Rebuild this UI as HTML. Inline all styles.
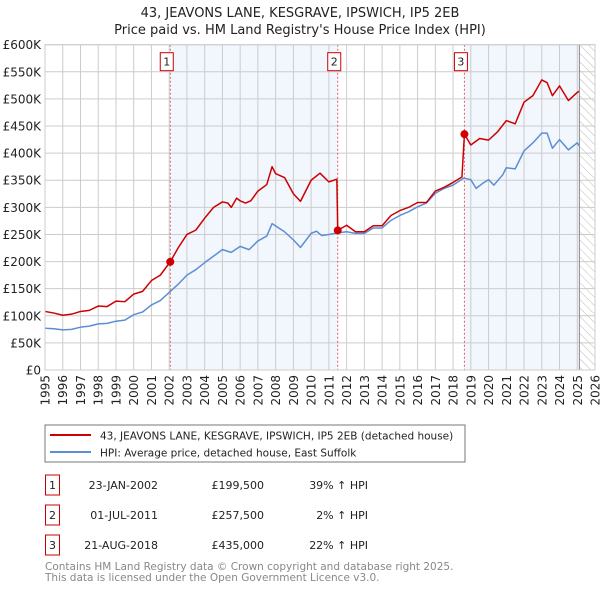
<!DOCTYPE html>
<html><head><meta charset="utf-8"><style>
body{margin:0;background:#fff;font-family:"DejaVu Sans","Liberation Sans",sans-serif;}
#wrap{position:relative;width:600px;height:590px;overflow:hidden;}
svg text{font-family:"DejaVu Sans","Liberation Sans",sans-serif;}
</style></head><body>
<div id="wrap">
<svg id="chart" width="600" height="590">
<defs><pattern id="hatch" width="6" height="6" patternUnits="userSpaceOnUse" patternTransform="rotate(-45)"><line x1="0" y1="0" x2="0" y2="6" stroke="#bbb" stroke-width="1"/></pattern></defs>
<text x="300" y="17" text-anchor="middle" font-size="13" fill="#222">43, JEAVONS LANE, KESGRAVE, IPSWICH, IP5 2EB</text>
<text x="300" y="34" text-anchor="middle" font-size="13" fill="#222">Price paid vs. HM Land Registry's House Price Index (HPI)</text>
<g id="plot"></g>
<rect x="45" y="425" width="420" height="37" fill="#fff" stroke="#777"/>
<line x1="50" y1="435" x2="91" y2="435" stroke="#cc0000" stroke-width="2"/>
<text x="100" y="439.5" font-size="10.5" fill="#222">43, JEAVONS LANE, KESGRAVE, IPSWICH, IP5 2EB (detached house)</text>
<line x1="50" y1="452" x2="91" y2="452" stroke="#5b8fd4" stroke-width="2"/>
<text x="100" y="456.5" font-size="10.5" fill="#222">HPI: Average price, detached house, East Suffolk</text>
<g font-size="11" fill="#222">
<rect x="45.5" y="475" width="14" height="20" fill="#fff" stroke="#cc0000"/><text x="52.5" y="489" text-anchor="middle">1</text>
<text x="158" y="489" text-anchor="end">23-JAN-2002</text><text x="264" y="489" text-anchor="end">£199,500</text><text x="368" y="489" text-anchor="end">39% ↑ HPI</text>
<rect x="45.5" y="505" width="14" height="20" fill="#fff" stroke="#cc0000"/><text x="52.5" y="519" text-anchor="middle">2</text>
<text x="158" y="519" text-anchor="end">01-JUL-2011</text><text x="264" y="519" text-anchor="end">£257,500</text><text x="368" y="519" text-anchor="end">2% ↑ HPI</text>
<rect x="45.5" y="535" width="14" height="20" fill="#fff" stroke="#cc0000"/><text x="52.5" y="549" text-anchor="middle">3</text>
<text x="158" y="549" text-anchor="end">21-AUG-2018</text><text x="264" y="549" text-anchor="end">£435,000</text><text x="368" y="549" text-anchor="end">22% ↑ HPI</text>
</g>
<text x="45" y="570" font-size="10.5" fill="#888">Contains HM Land Registry data © Crown copyright and database right 2025.</text>
<text x="45" y="581" font-size="10.5" fill="#888">This data is licensed under the Open Government Licence v3.0.</text>
</svg>
</div>
<script>
const hpiYears=[1995,1995.5,1996,1996.5,1997,1997.5,1998,1998.5,1999,1999.5,2000,2000.5,2001,2001.5,2002,2002.5,2003,2003.5,2004,2004.5,2005,2005.5,2006,2006.5,2007,2007.5,2007.8,2008.5,2009,2009.4,2010,2010.3,2010.6,2011,2011.5,2012,2012.5,2013,2013.5,2014,2014.5,2015,2015.5,2016,2016.5,2017,2017.5,2018,2018.6,2019,2019.3,2019.7,2020,2020.3,2020.8,2021,2021.5,2022,2022.5,2023,2023.3,2023.6,2024,2024.5,2025,2025.1];
const hpiValues=[77,76,74,75,79,81,85,86,90,92,102,107,120,128,143,158,175,185,198,210,222,217,228,222,238,247,270,255,240,226,252,256,248,250,253,255,252,252,262,262,276,285,292,301,308,326,335,341,354,351,335,345,351,341,360,373,371,404,419,437,437,409,425,406,419,414];
const ppYears=[1995,1995.5,1996,1996.5,1997,1997.5,1998,1998.5,1999,1999.5,2000,2000.5,2001,2001.5,2002.06,2002.5,2003,2003.5,2004,2004.5,2005,2005.3,2005.5,2005.8,2006,2006.3,2006.6,2007,2007.5,2007.8,2008,2008.5,2009,2009.4,2010,2010.5,2011,2011.45,2011.5,2012,2012.5,2013,2013.5,2014,2014.5,2015,2015.5,2016,2016.5,2017,2017.5,2018,2018.5,2018.64,2019,2019.5,2020,2020.5,2021,2021.5,2022,2022.5,2023,2023.3,2023.6,2024,2024.5,2025,2025.1];
const ppValues=[108,105,101,103,108,110,118,117,127,126,140,145,165,175,199.5,225,250,258,280,300,310,308,300,317,312,308,312,330,342,375,362,355,325,311,350,363,347,352,257.5,267,255,255,266,266,285,294,300,309,309,330,337,346,356,435,415,427,424,439,460,454,494,506,535,530,506,524,497,512,514];
const saleYears=[2002.06,2011.5,2018.64];
const saleValues=[199.5,257.5,435];
const saleLabels=["1","2","3"];
const yTicks=[0,50,100,150,200,250,300,350,400,450,500,550,600];
const yTickLabels=["£0","£50K","£100K","£150K","£200K","£250K","£300K","£350K","£400K","£450K","£500K","£550K","£600K"];
const xTicks=[1995,1996,1997,1998,1999,2000,2001,2002,2003,2004,2005,2006,2007,2008,2009,2010,2011,2012,2013,2014,2015,2016,2017,2018,2019,2020,2021,2022,2023,2024,2025,2026];

const L=45,R=595,T=44.7,B=370,X0=1995,X1=2026,Y1=600,dataEnd=2025.12;
const xs=v=>L+(v-X0)/(X1-X0)*(R-L);
const ys=v=>B-v/Y1*(B-T);
const NS='http://www.w3.org/2000/svg';
const g=document.getElementById('plot');
function mk(tag,attrs,parent){const e=document.createElementNS(NS,tag);for(const k in attrs)e.setAttribute(k,attrs[k]);(parent||g).appendChild(e);return e;}
let e;
e=mk('rect',{x:L,y:T,width:R-L,height:B-T,fill:'#fff'});


e=mk('rect',{x:xs(saleYears[0]),y:T,width:xs(saleYears[1])-xs(saleYears[0]),height:B-T,fill:'#f2f6fd'});


e=mk('rect',{x:xs(saleYears[2]),y:T,width:xs(dataEnd)-xs(saleYears[2]),height:B-T,fill:'#f2f6fd'});


e=mk('rect',{x:xs(dataEnd),y:T,width:R-xs(dataEnd),height:B-T,fill:'url(#hatch)'});


yTicks.forEach((v,i)=>{
  e=mk('line',{x1:L,x2:R,y1:ys(v),y2:ys(v),stroke:'#ccc','stroke-width':1});
  
  
  e=mk('text',{x:L-4,y:ys(v)+4.5,'text-anchor':'end','font-size':'12',fill:'#222'});
  e.textContent=yTickLabels[i];
  
  
});
xTicks.forEach(v=>{
  e=mk('line',{x1:xs(v),x2:xs(v),y1:T,y2:B,stroke:'#ccc','stroke-width':1});
  
  
  e=mk('text',{transform:`translate(${xs(v)+4.5},${B+5}) rotate(-90)`,'text-anchor':'end','font-size':'12',fill:'#222'});
  e.textContent=String(v);
  
  
});
e=mk('line',{x1:xs(dataEnd),x2:xs(dataEnd),y1:T,y2:B,stroke:'#888','stroke-width':1});


saleYears.forEach((v,i)=>{
  e=mk('line',{x1:xs(v),x2:xs(v),y1:T,y2:B,stroke:'#e06060','stroke-width':1,'stroke-dasharray':'2,2'});
  
  
  e=mk('rect',{x:xs(v)-10,y:T+8,width:13,height:18,fill:'#fff',stroke:'#cc0000'});
  
  
  e=mk('text',{x:xs(v)-3.5,y:T+21,'text-anchor':'middle','font-size':'11',fill:'#222'});
  e.textContent=saleLabels[i];
  
  
});
e=mk('polyline',{points:hpiYears.map((y,i)=>xs(y)+','+ys(hpiValues[i])).join(' '),fill:'none',stroke:'#5b8fd4','stroke-width':1.5,'stroke-linejoin':'round'});


e=mk('polyline',{points:ppYears.map((y,i)=>xs(y)+','+ys(ppValues[i])).join(' '),fill:'none',stroke:'#cc0000','stroke-width':1.5,'stroke-linejoin':'round'});


saleYears.forEach((v,i)=>{
  e=mk('circle',{cx:xs(v),cy:ys(saleValues[i]),r:4,fill:'#cc0000'});
  
  
});
e=mk('rect',{x:L,y:T,width:R-L,height:B-T,fill:'none',stroke:'#ccc'});


</script>
</body></html>
